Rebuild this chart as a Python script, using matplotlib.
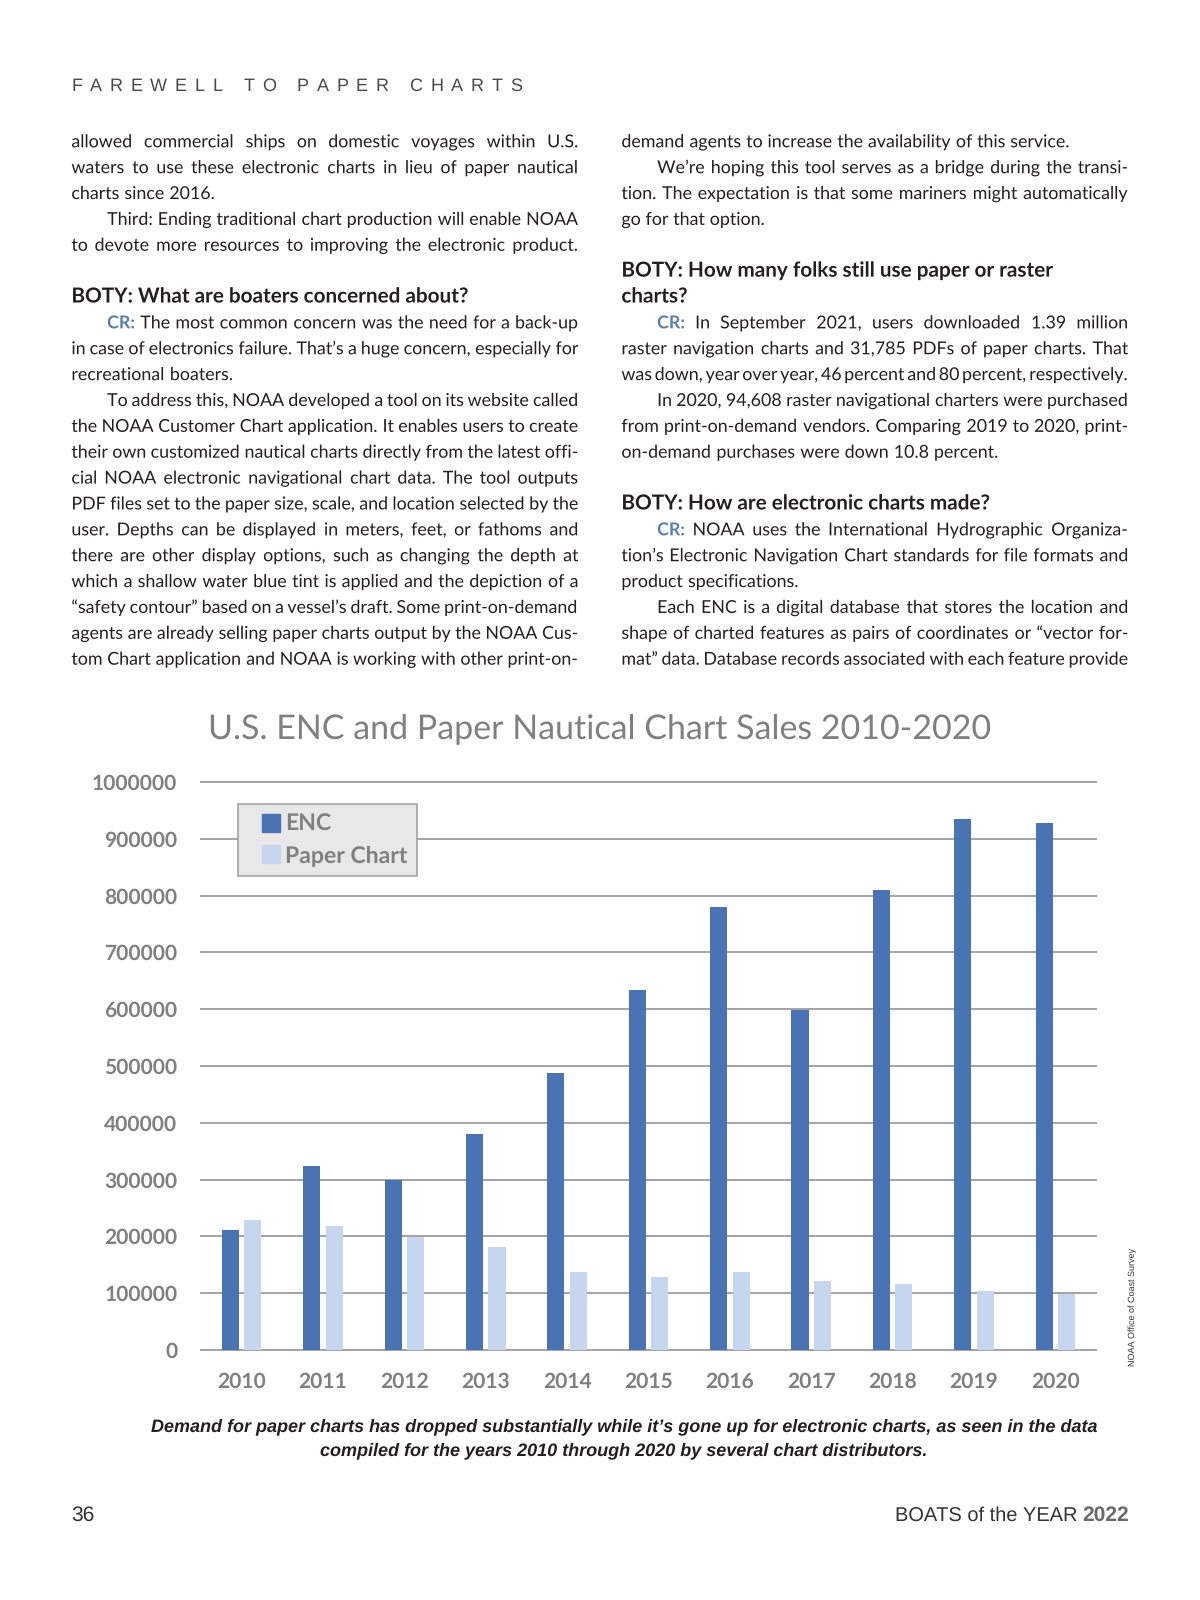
import numpy as np
import matplotlib
matplotlib.use("Agg")
import matplotlib.pyplot as plt
import matplotlib.patheffects as pe
from matplotlib import font_manager
from matplotlib.lines import Line2D

plt.rcParams["text.hinting"] = "no_hinting"
plt.rcParams["text.hinting_factor"] = 1

# -----------------------------
# Chart data
# -----------------------------
years = ["2010", "2011", "2012", "2013", "2014", "2015",
         "2016", "2017", "2018", "2019", "2020"]
enc_sales = [212000, 324000, 299000, 381000, 487000, 633000,
             780000, 598000, 809000, 934000, 927000]
paper_sales = [229000, 219000, 199000, 181000, 137000, 128000,
               137000, 122000, 116000, 104000, 98000]
y_ticks = list(range(0, 1000001, 100000))
series_names = ["ENC", "Paper Chart"]

ENC_COLOR = "#4a73b3"
PAPER_COLOR = "#c5d6ee"
CHART_GRAY = "#808080"
INK = "#231f20"
CR_BLUE = "#5a80ab"

# -----------------------------
# Article text, line by line: (row, style, indent, text)
# j = justified, e = paragraph end, h = heading
# -----------------------------
left_lines = [
    (0, "j", 0, "allowed commercial ships on domestic voyages within U.S."),
    (1, "j", 0, "waters to use these electronic charts in lieu of paper nautical"),
    (2, "e", 0, "charts since 2016."),
    (3, "j", 1, "Third: Ending traditional chart production will enable NOAA"),
    (4, "j", 0, "to devote more resources to improving the electronic product."),
    (6, "h", 0, "BOTY: What are boaters concerned about?"),
    (7, "j", 1, "CR: The most common concern was the need for a back-up"),
    (8, "j", 0, "in case of electronics failure. That\u2019s a huge concern, especially for"),
    (9, "e", 0, "recreational boaters."),
    (10, "j", 1, "To address this, NOAA developed a tool on its website called"),
    (11, "j", 0, "the NOAA Customer Chart application. It enables users to create"),
    (12, "j", 0, "their own customized nautical charts directly from the latest offi-"),
    (13, "j", 0, "cial NOAA electronic navigational chart data. The tool outputs"),
    (14, "j", 0, "PDF files set to the paper size, scale, and location selected by the"),
    (15, "j", 0, "user. Depths can be displayed in meters, feet, or fathoms and"),
    (16, "j", 0, "there are other display options, such as changing the depth at"),
    (17, "j", 0, "which a shallow water blue tint is applied and the depiction of a"),
    (18, "j", 0, "\u201csafety contour\u201d based on a vessel\u2019s draft. Some print-on-demand"),
    (19, "j", 0, "agents are already selling paper charts output by the NOAA Cus-"),
    (20, "j", 0, "tom Chart application and NOAA is working with other print-on-"),
]
right_lines = [
    (0, "e", 0, "demand agents to increase the availability of this service."),
    (1, "j", 1, "We\u2019re hoping this tool serves as a bridge during the transi-"),
    (2, "j", 0, "tion. The expectation is that some mariners might automatically"),
    (3, "e", 0, "go for that option."),
    (5, "h", 0, "BOTY: How many folks still use paper or raster"),
    (6, "h", 0, "charts?"),
    (7, "j", 1, "CR: In September 2021, users downloaded 1.39 million"),
    (8, "j", 0, "raster navigation charts and 31,785 PDFs of paper charts. That"),
    (9, "j", 0, "was down, year over year, 46 percent and 80 percent, respectively."),
    (10, "j", 1, "In 2020, 94,608 raster navigational charters were purchased"),
    (11, "j", 0, "from print-on-demand vendors. Comparing 2019 to 2020, print-"),
    (12, "e", 0, "on-demand purchases were down 10.8 percent."),
    (14, "h", 0, "BOTY: How are electronic charts made?"),
    (15, "j", 1, "CR: NOAA uses the International Hydrographic Organiza-"),
    (16, "j", 0, "tion\u2019s Electronic Navigation Chart standards for file formats and"),
    (17, "e", 0, "product specifications."),
    (18, "j", 1, "Each ENC is a digital database that stores the location and"),
    (19, "j", 0, "shape of charted features as pairs of coordinates or \u201cvector for-"),
    (20, "j", 0, "mat\u201d data. Database records associated with each feature provide"),
]

W, H = 1200, 1600
fig = plt.figure(figsize=(W / 100, H / 100), dpi=100)
fig.patch.set_facecolor("white")
renderer = fig.canvas.get_renderer()

names = {f.name for f in font_manager.fontManager.ttflist}
NARROW = "Liberation Sans Narrow" if "Liberation Sans Narrow" in names else "Liberation Sans"
AS_PATH = [pe.Normal()]  # draw words as paths so they sit on a common baseline


def fx(x):
    return x / W


def fy(y):
    return 1 - y / H


def tw(s, **kw):
    t = fig.text(0, 0, s, **kw)
    w = t.get_window_extent(renderer).width
    t.remove()
    return w


def fit(s, target, **kw):
    size = 20.0
    for _ in range(3):
        size *= target / tw(s, fontsize=size, **kw)
    return size


# -----------------------------
# Page header
# -----------------------------
header = "FAREWELL TO PAPER CHARTS"
head_kw = dict(family="Liberation Sans", color="#4a4a4a")
hfs = 13.0
cw = [tw(c if c != " " else "n", fontsize=hfs, **head_kw) * (0.55 if c == " " else 1) for c in header]
track = (522 - 71.4 - sum(cw)) / (len(header) - 1)
x = 71.4
for c, w in zip(header, cw):
    if c != " ":
        fig.text(fx(x), fy(91), c, fontsize=hfs, va="baseline", **head_kw)
    x += w + track

# -----------------------------
# Body text columns (justified by hand)
# -----------------------------
BASE0, LEAD, INDENT = 147.3, 25.87, 35.7
BODY = dict(family="Lato", color=INK)
CRP = dict(family="Lato", weight="bold", color=CR_BLUE)
HEAD = dict(family="Lato", weight="bold", color=INK)
cols = [(left_lines, 71.4, 578.6), (right_lines, 621.4, 1128.6)]

fs = 14.5
ratio = 0
sp0 = tw("a a", fontsize=fs, **BODY) - tw("aa", fontsize=fs, **BODY)
for lines, x0, x1 in cols:
    for row, style, ind, s in lines:
        if style != "j":
            continue
        words = s.split()
        need = sum(tw(w, fontsize=fs, **BODY) for w in words) + 0.7 * sp0 * (len(words) - 1)
        ratio = max(ratio, need / (x1 - x0 - ind * INDENT))
if ratio > 1:
    fs = fs / ratio
sp = tw("a a", fontsize=fs, **BODY) - tw("aa", fontsize=fs, **BODY)
head_fs = fit("BOTY: What are boaters concerned about?", 402, **HEAD)

for lines, x0, x1 in cols:
    for row, style, ind, s in lines:
        y = BASE0 + row * LEAD
        if style == "h":
            fig.text(fx(x0), fy(y), s, fontsize=head_fs, va="baseline",
                     path_effects=AS_PATH, **HEAD)
            continue
        start = x0 + ind * INDENT
        words = s.split()
        props = [CRP if (i == 0 and w == "CR:") else BODY for i, w in enumerate(words)]
        widths = [tw(w, fontsize=fs, **p) for w, p in zip(words, props)]
        if style == "j" and len(words) > 1:
            gap = (x1 - start - sum(widths)) / (len(words) - 1)
        else:
            gap = sp
        x = start
        for w, p, wd in zip(words, props, widths):
            fig.text(fx(x), fy(y), w, fontsize=fs, va="baseline", path_effects=AS_PATH, **p)
            x += wd + gap

# -----------------------------
# The chart
# -----------------------------
title = "U.S. ENC and Paper Nautical Chart Sales 2010-2020"
fig.text(fx(599.5), fy(738), title, ha="center", va="baseline", color=CHART_GRAY,
         family="Lato", fontsize=fit(title, 785, family="Lato"))

ax = fig.add_axes([fx(201), fy(1350), (1096 - 201) / W, 568 / H])
xpos = np.arange(len(years))
ax.bar(xpos - 0.138, enc_sales, width=0.21, color=ENC_COLOR, zorder=3)
ax.bar(xpos + 0.138, paper_sales, width=0.21, color=PAPER_COLOR, zorder=3)
ax.set_xlim(-0.5, len(years) - 0.5)
ax.set_ylim(0, 1000000)
ax.set_yticks(y_ticks)
ax.set_yticklabels([str(v) for v in y_ticks])
ax.set_xticks(xpos)
ax.set_xticklabels(years)

tick_fs = fit("1000000", 85, family="Lato", weight="bold")
for lab in ax.get_yticklabels() + ax.get_xticklabels():
    lab.set_family("Lato")
    lab.set_weight("bold")
    lab.set_color(CHART_GRAY)
    lab.set_fontsize(tick_fs)
ax.tick_params(axis="y", length=0, pad=17)
ax.tick_params(axis="x", length=0, pad=16)

ax.grid(axis="y", color="#a3a3a3", linewidth=1.4)
ax.set_axisbelow(True)
for gl in ax.yaxis.get_gridlines():
    gl.set_clip_on(False)
for s in ax.spines.values():
    s.set_visible(False)

# square markers, centred in a wide handle box, give the Excel-style left padding
handles = [Line2D([], [], marker="s", markersize=12.5, linestyle="none",
                  markerfacecolor=c, markeredgecolor=c) for c in (ENC_COLOR, PAPER_COLOR)]
leg_fs = fit("Paper Chart", 122, family="Lato", weight="bold")
leg = ax.legend(handles, series_names, loc="upper left",
                bbox_to_anchor=(fx(237.5), fy(804.5)), bbox_transform=fig.transFigure,
                borderaxespad=0, fancybox=False, framealpha=1,
                prop=dict(family="Lato", weight="bold", size=leg_fs),
                handlelength=2.1, handleheight=0.8, handletextpad=-0.42,
                labelspacing=0.45, borderpad=0.42)
leg.get_frame().set_facecolor("#e8e8e8")
leg.get_frame().set_edgecolor("#a3a3a3")
leg.get_frame().set_linewidth(1.2)
for t in leg.get_texts():
    t.set_color(CHART_GRAY)

src = "NOAA Office of Coast Survey"
fig.text(fx(1133), fy(1307), src, rotation=90, ha="center", va="center", color="#333333",
         family="Liberation Sans", fontsize=fit(src, 129, family="Liberation Sans"))

# -----------------------------
# Caption and footer
# -----------------------------
cap1 = ("Demand for paper charts has dropped substantially while it\u2019s gone up for "
        "electronic charts, as seen in the data")
cap2 = "compiled for the years 2010 through 2020 by several chart distributors."
cap_kw = dict(family=NARROW, weight="bold", style="italic", color=INK)
cap_fs = fit(cap1, 934, **cap_kw)
fig.text(fx(624), fy(1431), cap1, ha="center", va="baseline", fontsize=cap_fs, **cap_kw)
fig.text(fx(624), fy(1455), cap2, ha="center", va="baseline", fontsize=cap_fs, **cap_kw)

foot_kw = dict(family=NARROW, color="#333333")
fig.text(fx(71.4), fy(1521), "36", va="baseline", fontsize=15, **foot_kw)
w2022 = tw("2022", fontsize=15, weight="bold", **foot_kw)
fig.text(fx(1128.6), fy(1521), "2022", ha="right", va="baseline", fontsize=15,
         weight="bold", family=NARROW, color="#6a6a6a")
fig.text(fx(1128.6 - w2022 - 4), fy(1521), "BOATS of the YEAR", ha="right", va="baseline",
         fontsize=14.6, **foot_kw)

fig.savefig("out.png", dpi=100, facecolor="white")
